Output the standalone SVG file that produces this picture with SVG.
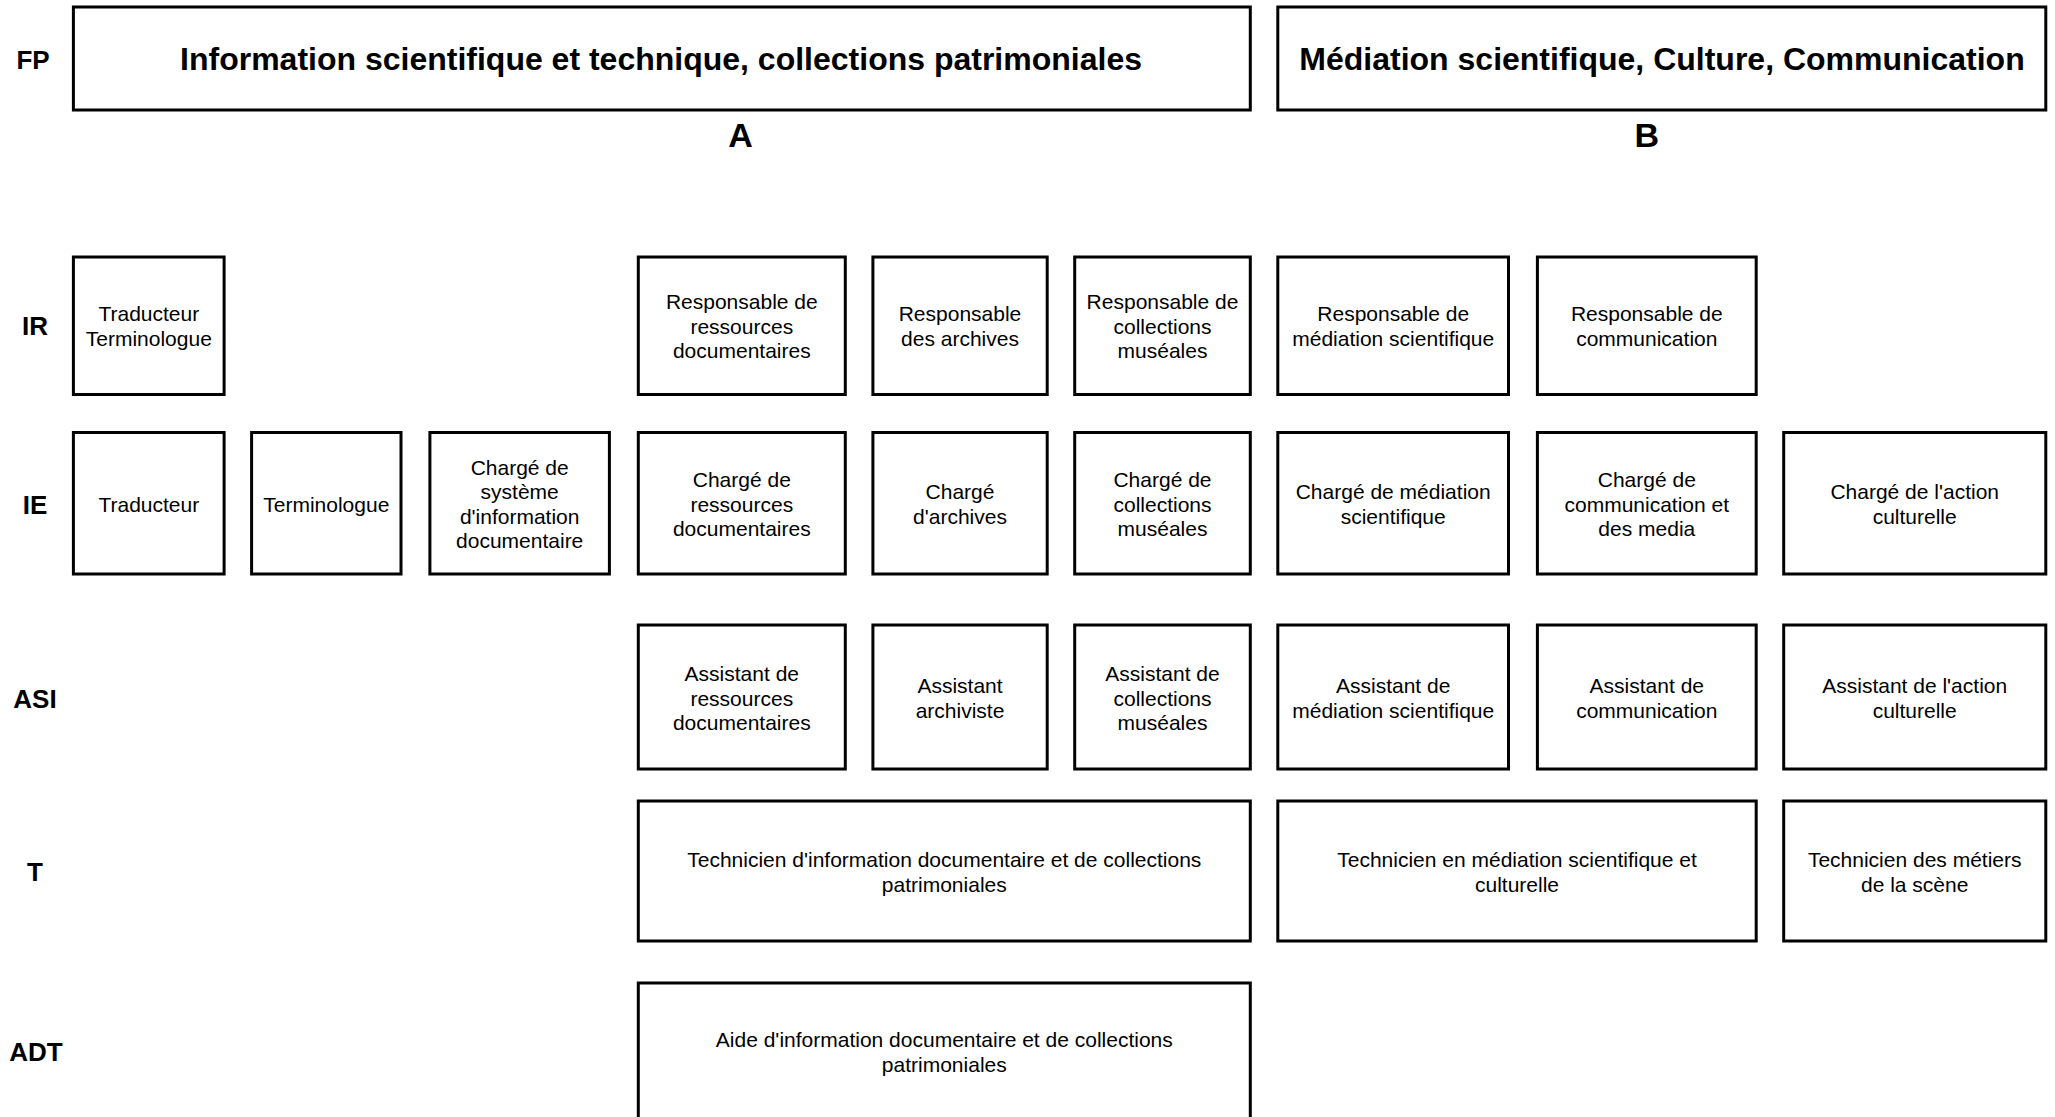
<svg xmlns="http://www.w3.org/2000/svg" width="2055" height="1117" viewBox="0 0 2055 1117">
<style>
.bx{fill:#fff;stroke:#000;stroke-width:3}
.t{font-family:"Liberation Sans",Arial,sans-serif;font-size:21px;fill:#000;text-anchor:middle}
.lbl{font-family:"Liberation Sans",Arial,sans-serif;font-size:26px;font-weight:bold;fill:#000;text-anchor:middle}
.ttl{font-family:"Liberation Sans",Arial,sans-serif;font-size:32px;font-weight:bold;fill:#000;text-anchor:middle}
.ab{font-family:"Liberation Sans",Arial,sans-serif;font-size:34px;font-weight:bold;fill:#000;text-anchor:middle}
</style>
<rect width="2055" height="1117" fill="#fff"/>
<g id="row-labels">
<text class="lbl" x="33" y="69">FP</text>
<text class="lbl" x="35" y="335">IR</text>
<text class="lbl" x="35" y="514">IE</text>
<text class="lbl" x="35" y="708">ASI</text>
<text class="lbl" x="35" y="881">T</text>
<text class="lbl" x="36" y="1061">ADT</text>
</g>
<g id="fp-A">
<rect class="bx" x="73.4" y="7" width="1176.9" height="103"/>
<text class="ttl" x="661" y="70">Information scientifique et technique, collections patrimoniales</text>
<text class="ab" x="740.5" y="147">A</text>
</g>
<g id="fp-B">
<rect class="bx" x="1277.8" y="7" width="768" height="103"/>
<text class="ttl" x="1662" y="70">Médiation scientifique, Culture, Communication</text>
<text class="ab" x="1646.8" y="147">B</text>
</g>
<g id="connectors"/>
<!-- IR -->
<g id="ir-traducteur-terminologue">
<rect class="bx" x="73.4" y="257" width="150.7" height="137.5"/>
<text class="t"><tspan x="148.8" y="321.3">Traducteur</tspan><tspan x="148.8" y="345.8">Terminologue</tspan></text>
</g>
<g id="ir-resp-ressources">
<rect class="bx" x="638.3" y="257" width="207" height="137.5"/>
<text class="t"><tspan x="741.8" y="309">Responsable de</tspan><tspan x="741.8" y="333.5">ressources</tspan><tspan x="741.8" y="358">documentaires</tspan></text>
</g>
<g id="ir-resp-archives">
<rect class="bx" x="872.9" y="257" width="174.3" height="137.5"/>
<text class="t"><tspan x="960" y="321.3">Responsable</tspan><tspan x="960" y="345.8">des archives</tspan></text>
</g>
<g id="ir-resp-collections">
<rect class="bx" x="1074.7" y="257" width="175.6" height="137.5"/>
<text class="t"><tspan x="1162.5" y="309">Responsable de</tspan><tspan x="1162.5" y="333.5">collections</tspan><tspan x="1162.5" y="358">muséales</tspan></text>
</g>
<g id="ir-resp-mediation">
<rect class="bx" x="1277.8" y="257" width="230.7" height="137.5"/>
<text class="t"><tspan x="1393.2" y="321.3">Responsable de</tspan><tspan x="1393.2" y="345.8">médiation scientifique</tspan></text>
</g>
<g id="ir-resp-communication">
<rect class="bx" x="1537.4" y="257" width="218.8" height="137.5"/>
<text class="t"><tspan x="1646.8" y="321.3">Responsable de</tspan><tspan x="1646.8" y="345.8">communication</tspan></text>
</g>
<!-- IE -->
<g id="ie-traducteur">
<rect class="bx" x="73.4" y="432.5" width="150.7" height="141.5"/>
<text class="t" x="148.8" y="511.5">Traducteur</text>
</g>
<g id="ie-terminologue">
<rect class="bx" x="251.6" y="432.5" width="149.4" height="141.5"/>
<text class="t" x="326.3" y="511.5">Terminologue</text>
</g>
<g id="ie-systeme">
<rect class="bx" x="429.9" y="432.5" width="179.5" height="141.5"/>
<text class="t"><tspan x="519.7" y="474.8">Chargé de</tspan><tspan x="519.7" y="499.3">système</tspan><tspan x="519.7" y="523.8">d'information</tspan><tspan x="519.7" y="548.3">documentaire</tspan></text>
</g>
<g id="ie-ressources">
<rect class="bx" x="638.3" y="432.5" width="207" height="141.5"/>
<text class="t"><tspan x="741.8" y="487">Chargé de</tspan><tspan x="741.8" y="511.5">ressources</tspan><tspan x="741.8" y="536">documentaires</tspan></text>
</g>
<g id="ie-archives">
<rect class="bx" x="872.9" y="432.5" width="174.3" height="141.5"/>
<text class="t"><tspan x="960" y="499.3">Chargé</tspan><tspan x="960" y="523.8">d'archives</tspan></text>
</g>
<g id="ie-collections">
<rect class="bx" x="1074.7" y="432.5" width="175.6" height="141.5"/>
<text class="t"><tspan x="1162.5" y="487">Chargé de</tspan><tspan x="1162.5" y="511.5">collections</tspan><tspan x="1162.5" y="536">muséales</tspan></text>
</g>
<g id="ie-mediation">
<rect class="bx" x="1277.8" y="432.5" width="230.7" height="141.5"/>
<text class="t"><tspan x="1393.2" y="499.3">Chargé de médiation</tspan><tspan x="1393.2" y="523.8">scientifique</tspan></text>
</g>
<g id="ie-communication">
<rect class="bx" x="1537.4" y="432.5" width="218.8" height="141.5"/>
<text class="t"><tspan x="1646.8" y="487">Chargé de</tspan><tspan x="1646.8" y="511.5">communication et</tspan><tspan x="1646.8" y="536">des media</tspan></text>
</g>
<g id="ie-action-culturelle">
<rect class="bx" x="1783.7" y="432.5" width="262.1" height="141.5"/>
<text class="t"><tspan x="1914.7" y="499.3">Chargé de l'action</tspan><tspan x="1914.7" y="523.8">culturelle</tspan></text>
</g>
<!-- ASI -->
<g id="asi-ressources">
<rect class="bx" x="638.3" y="625" width="207" height="144"/>
<text class="t"><tspan x="741.8" y="681">Assistant de</tspan><tspan x="741.8" y="705.5">ressources</tspan><tspan x="741.8" y="730">documentaires</tspan></text>
</g>
<g id="asi-archiviste">
<rect class="bx" x="872.9" y="625" width="174.3" height="144"/>
<text class="t"><tspan x="960" y="693.3">Assistant</tspan><tspan x="960" y="717.8">archiviste</tspan></text>
</g>
<g id="asi-collections">
<rect class="bx" x="1074.7" y="625" width="175.6" height="144"/>
<text class="t"><tspan x="1162.5" y="681">Assistant de</tspan><tspan x="1162.5" y="705.5">collections</tspan><tspan x="1162.5" y="730">muséales</tspan></text>
</g>
<g id="asi-mediation">
<rect class="bx" x="1277.8" y="625" width="230.7" height="144"/>
<text class="t"><tspan x="1393.2" y="693.3">Assistant de</tspan><tspan x="1393.2" y="717.8">médiation scientifique</tspan></text>
</g>
<g id="asi-communication">
<rect class="bx" x="1537.4" y="625" width="218.8" height="144"/>
<text class="t"><tspan x="1646.8" y="693.3">Assistant de</tspan><tspan x="1646.8" y="717.8">communication</tspan></text>
</g>
<g id="asi-action-culturelle">
<rect class="bx" x="1783.7" y="625" width="262.1" height="144"/>
<text class="t"><tspan x="1914.7" y="693.3">Assistant de l'action</tspan><tspan x="1914.7" y="717.8">culturelle</tspan></text>
</g>
<!-- T -->
<g id="t-information">
<rect class="bx" x="638.3" y="801" width="612" height="140"/>
<text class="t"><tspan x="944.3" y="867.3">Technicien d'information documentaire et de collections</tspan><tspan x="944.3" y="891.8">patrimoniales</tspan></text>
</g>
<g id="t-mediation">
<rect class="bx" x="1277.8" y="801" width="478.4" height="140"/>
<text class="t"><tspan x="1517" y="867.3">Technicien en médiation scientifique et</tspan><tspan x="1517" y="891.8">culturelle</tspan></text>
</g>
<g id="t-scene">
<rect class="bx" x="1783.7" y="801" width="262.1" height="140"/>
<text class="t"><tspan x="1914.7" y="867.3">Technicien des métiers</tspan><tspan x="1914.7" y="891.8">de la scène</tspan></text>
</g>
<!-- ADT -->
<g id="adt-information">
<rect class="bx" x="638.3" y="983" width="612" height="145"/>
<text class="t"><tspan x="944.3" y="1047.3">Aide d'information documentaire et de collections</tspan><tspan x="944.3" y="1071.8">patrimoniales</tspan></text>
</g>
</svg>
